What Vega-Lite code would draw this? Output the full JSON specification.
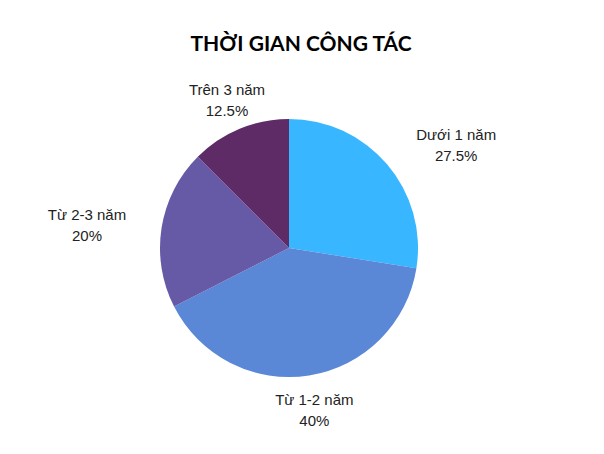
{
  "$schema": "https://vega.github.io/schema/vega-lite/v6.json",
  "background": "white",
  "autosize": {"type": "fit", "contains": "padding"},
  "width": 604,
  "height": 454,
  "padding": {"left": 0, "right": 26, "top": 34, "bottom": 20},
  "title": {
    "text": "THỜI GIAN CÔNG TÁC",
    "font": "Lato",
    "fontSize": 21,
    "fontWeight": "bold",
    "color": "#000000",
    "anchor": "middle",
    "dx": 12,
    "offset": 7
  },
  "data": {
    "values": [
      {"nhom": "Dưới 1 năm", "ty_le": 27.5, "thu_tu": 1, "nhan": "Dưới 1 năm\n27.5%"},
      {"nhom": "Từ 1-2 năm", "ty_le": 40, "thu_tu": 2, "nhan": "Từ 1-2 năm\n40%"},
      {"nhom": "Từ 2-3 năm", "ty_le": 20, "thu_tu": 3, "nhan": "Từ 2-3 năm\n20%"},
      {"nhom": "Trên 3 năm", "ty_le": 12.5, "thu_tu": 4, "nhan": "Trên 3 năm\n12.5%"}
    ]
  },
  "encoding": {
    "theta": {"field": "ty_le", "type": "quantitative", "stack": true},
    "order": {"field": "thu_tu", "type": "quantitative"}
  },
  "layer": [
    {
      "mark": {"type": "arc", "outerRadius": 129},
      "encoding": {
        "color": {
          "field": "nhom",
          "type": "nominal",
          "legend": null,
          "scale": {
            "domain": ["Dưới 1 năm", "Từ 1-2 năm", "Từ 2-3 năm", "Trên 3 năm"],
            "range": ["#38b6ff", "#5a87d6", "#6659a6", "#5e2b67"]
          }
        }
      }
    },
    {
      "mark": {"type": "text", "radius": 162, "dy": -8, "font": "Liberation Sans", "fontSize": 15, "color": "#222222", "lineBreak": "\n", "lineHeight": 21, "align": "center", "baseline": "middle"},
      "encoding": {
        "text": {"condition": {"test": "datum.nhom == 'Từ 1-2 năm' || datum.nhom == 'Trên 3 năm'", "field": "nhan"}, "value": ""}
      }
    },
    {
      "mark": {"type": "text", "radius": 162, "dx": 44, "dy": -8, "font": "Liberation Sans", "fontSize": 15, "color": "#222222", "lineBreak": "\n", "lineHeight": 21, "align": "center", "baseline": "middle"},
      "encoding": {
        "text": {"condition": {"test": "datum.nhom == 'Dưới 1 năm'", "field": "nhan"}, "value": ""}
      }
    },
    {
      "mark": {"type": "text", "radius": 162, "dx": -42, "dy": -8, "font": "Liberation Sans", "fontSize": 15, "color": "#222222", "lineBreak": "\n", "lineHeight": 21, "align": "center", "baseline": "middle"},
      "encoding": {
        "text": {"condition": {"test": "datum.nhom == 'Từ 2-3 năm'", "field": "nhan"}, "value": ""}
      }
    }
  ]
}
